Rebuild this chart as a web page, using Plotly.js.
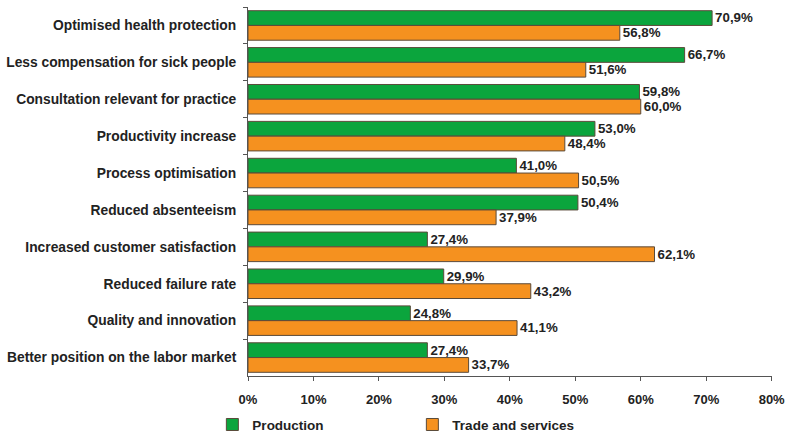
<!DOCTYPE html>
<html><head><meta charset="utf-8">
<script src="https://cdn.plot.ly/plotly-3.0.1.min.js"></script>
<style>html,body{margin:0;padding:0;background:#fff}</style>
</head><body><div id="chart" style="width:787px;height:438px"></div>
<script>
const categories = ["Optimised health protection","Less compensation for sick people","Consultation relevant for practice","Productivity increase","Process optimisation","Reduced absenteeism","Increased customer satisfaction","Reduced failure rate","Quality and innovation","Better position on the labor market"];
const production = [70.9,66.7,59.8,53.0,41.0,50.4,27.4,29.9,24.8,27.4];
const tradeServices = [56.8,51.6,60.0,48.4,50.5,37.9,62.1,43.2,41.1,33.7];
const seriesNames = ["Production","Trade and services"];
const tickVals = [0,10,20,30,40,50,60,70,80];
const tickText = tickVals.map(v => v + "%");
const fmt = v => v.toFixed(1).replace(".", ",") + "%";
const FF = "Liberation Sans, Arial, sans-serif";
const bold = (s) => ({family:FF, size:s, color:"#222", weight:"bold"});
const mk = (name, vals, color) => ({
  type:"bar", orientation:"h", name:name, y:categories, x:vals,
  text: vals.map(fmt), textposition:"outside", cliponaxis:false,
  textfont:bold(13.5),
  marker:{color:color, line:{color:"#5a4a3a", width:1}},
  hoverinfo:"none"
});
const data = [mk(seriesNames[0], production, "#0ba53d"), mk(seriesNames[1], tradeServices, "#f5911f")];
const layout = {
  width:787, height:438, margin:{l:248, r:15, t:7, b:62, autoexpand:false},
  paper_bgcolor:"#fff", plot_bgcolor:"#fff",
  barmode:"group", bargap:0.2, bargroupgap:0,
  font:{family:FF, size:13, color:"#222"},
  xaxis:{range:[0,80.05], tickvals:tickVals, ticktext:tickText, showgrid:false, zeroline:false,
    showline:true, linecolor:"#555", linewidth:1, ticks:"outside", ticklen:4, tickcolor:"#555",
    tickfont:bold(13), automargin:false, ticklabeloverflow:"allow", ticklabelstandoff:7},
  yaxis:{autorange:"reversed", showgrid:false, zeroline:false, showline:true, linecolor:"#555", linewidth:1,
    ticks:"outside", ticklen:4, tickcolor:"#555", tickson:"boundaries", ticklabelstandoff:8,
    tickfont:bold(13.8), automargin:false},
  legend:{orientation:"h", x:-0.068, xanchor:"left", y:-0.09, yanchor:"top", entrywidth:155,
    font:bold(13.5)},
  showlegend:true
};
Plotly.newPlot("chart", data, layout, {staticPlot:true, displayModeBar:false});
</script></body></html>
